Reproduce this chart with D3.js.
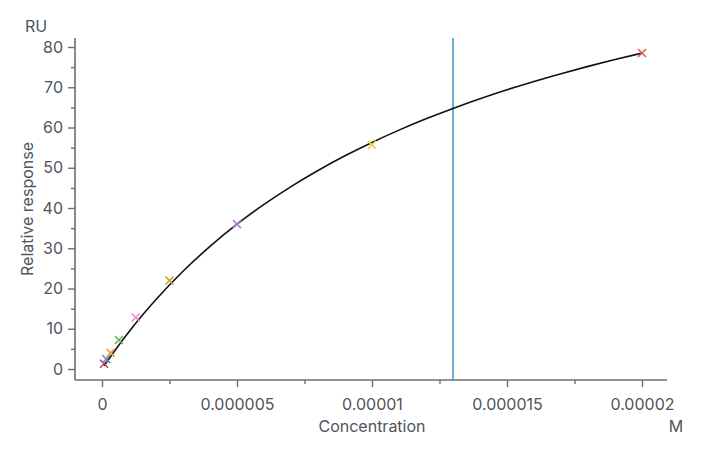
<!DOCTYPE html>
<html><head><meta charset="utf-8">
<script src="https://cdn.jsdelivr.net/npm/d3@7/dist/d3.min.js"></script>
<style>body{margin:0;background:#fff}svg{display:block}text{font-family:Inter,"Noto Sans",sans-serif}</style>
</head><body><svg id="c" width="705" height="450"></svg>
<script>
const concentrations = [7.8125e-8, 1.5625e-7, 3.125e-7, 6.25e-7, 1.25e-6, 2.5e-6, 5e-6, 1e-5, 2e-5];
const responses = [1.3, 2.5, 4.0, 7.2, 12.8, 22.0, 36.0, 55.7, 78.5];
const pointColors = ["#c0405a", "#5b8fd0", "#f0a040", "#5cb85c", "#e88ac8", "#c8a020", "#b27ec8", "#e8d84a", "#e05a5a"];
const fitConc = [7.8e-8, 2.5e-7, 5e-7, 1e-6, 1.5e-6, 2e-6, 3e-6, 4e-6, 5e-6, 6e-6, 7e-6, 8e-6, 9e-6, 1e-5, 1.1e-5, 1.2e-5, 1.3e-5, 1.4e-5, 1.5e-5, 1.6e-5, 1.7e-5, 1.8e-5, 1.9e-5, 2e-5];
const fitResp = [0.77, 2.44, 4.80, 9.25, 13.40, 17.27, 24.28, 30.47, 35.97, 40.89, 45.33, 49.33, 52.98, 56.30, 59.35, 62.16, 64.75, 67.15, 69.38, 71.45, 73.38, 75.19, 76.89, 78.48];
const kdLine = 1.3e-5;
const xTicks = [0, 5e-6, 1e-5, 1.5e-5, 2e-5];
const xTickLabels = ["0", "0.000005", "0.00001", "0.000015", "0.00002"];
const xMinorTicks = [2.5e-6, 7.5e-6, 1.25e-5, 1.75e-5];
const yTicks = [0, 10, 20, 30, 40, 50, 60, 70, 80];
const yMinorTicks = [5, 15, 25, 35, 45, 55, 65, 75];

const svg = d3.select("#c");
const L = 75, R = 667, T = 38, B = 380;
const x = d3.scaleLinear().domain([-1e-6, 2.0926e-5]).range([L, R]);
const y = d3.scaleLinear().domain([-2.73, 82.24]).range([B, T]);
const axisColor = "#6b6e72", textColor = "#50555b";

// axes
const xa = svg.append("g").attr("transform", `translate(0,${B})`)
  .call(d3.axisBottom(x).tickValues(xTicks).tickFormat((d,i)=>xTickLabels[i]).tickSize(7).tickPadding(12));
const xm = svg.append("g").attr("transform", `translate(0,${B})`)
  .call(d3.axisBottom(x).tickValues(xMinorTicks).tickFormat("").tickSize(4));
const ya = svg.append("g").attr("transform", `translate(${L},0)`)
  .call(d3.axisLeft(y).tickValues(yTicks).tickSize(7).tickPadding(5));
const ym = svg.append("g").attr("transform", `translate(${L},0)`)
  .call(d3.axisLeft(y).tickValues(yMinorTicks).tickFormat("").tickSize(4));
[xa, xm, ya, ym].forEach(g => {
  g.select(".domain").attr("stroke", axisColor).attr("stroke-width", 1.6);
  g.selectAll(".tick line").attr("stroke", axisColor).attr("stroke-width", 1.4);
  g.selectAll(".tick text").attr("fill", textColor).style("font-size", "16px");
});
xa.select(".domain").attr("d", `M${L},0H${R}`);
xm.select(".domain").remove();
ya.select(".domain").attr("d", `M0,${B}V${T}`);
ym.select(".domain").remove();

// kd line
svg.append("line").attr("x1", x(kdLine)).attr("x2", x(kdLine)).attr("y1", T).attr("y2", B)
  .attr("stroke", "#4a9cc8").attr("stroke-width", 1.6);

// fit curve
svg.append("path").datum(fitConc.map((c,i)=>[c, fitResp[i]]))
  .attr("d", d3.line().x(d=>x(d[0])).y(d=>y(d[1])).curve(d3.curveMonotoneX))
  .attr("fill", "none").attr("stroke", "#111").attr("stroke-width", 1.6);

// points as crosses
const s = 4;
const pts = svg.append("g").selectAll("g").data(concentrations).join("g")
  .attr("transform", (d,i)=>`translate(${x(d)},${y(responses[i])})`);
pts.append("path").attr("d", `M${-s},${-s}L${s},${s}M${-s},${s}L${s},${-s}`)
  .attr("stroke", (d,i)=>pointColors[i]).attr("stroke-width", 1.6).attr("fill", "none");

// labels
svg.append("text").attr("x", 36).attr("y", 32).attr("text-anchor", "middle").attr("fill", textColor).style("font-size", "16px").text("RU");
svg.append("text").attr("transform", "translate(33,209) rotate(-90)").attr("text-anchor", "middle").attr("fill", textColor).style("font-size", "16px").text("Relative response");
svg.append("text").attr("x", 372).attr("y", 432).attr("text-anchor", "middle").attr("fill", textColor).style("font-size", "16px").text("Concentration");
svg.append("text").attr("x", 676).attr("y", 432).attr("text-anchor", "middle").attr("fill", textColor).style("font-size", "16px").text("M");
</script></body></html>
